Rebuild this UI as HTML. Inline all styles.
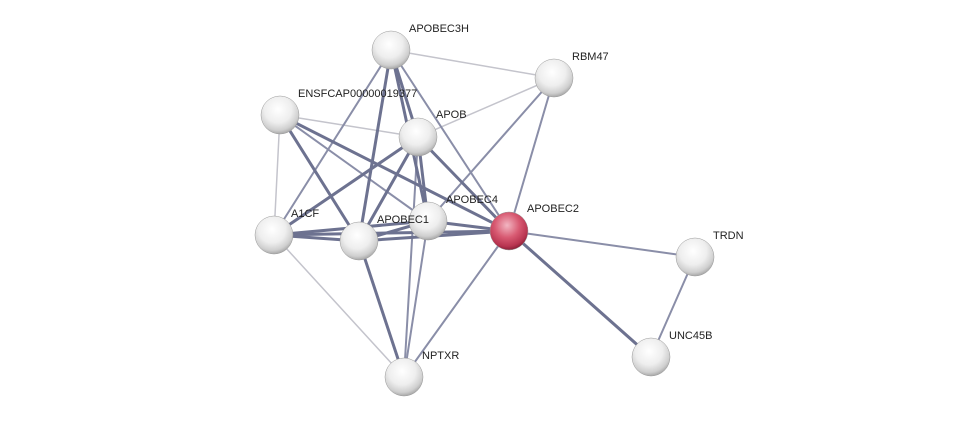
<!DOCTYPE html>
<html><head><meta charset="utf-8"><style>
html,body{margin:0;padding:0;background:#fff;}
svg{display:block;}
text{font-family:"Liberation Sans",sans-serif;font-size:11px;fill:#222;}
</style></head><body>
<svg width="975" height="423" viewBox="0 0 975 423">
<defs>
<radialGradient id="g" cx="45%" cy="35%" r="65%">
<stop offset="0" stop-color="#ffffff"/><stop offset="0.55" stop-color="#eeeeee"/><stop offset="0.85" stop-color="#cfcfcf"/><stop offset="1" stop-color="#a8a8a8"/>
</radialGradient>
<radialGradient id="r" cx="45%" cy="35%" r="65%">
<stop offset="0" stop-color="#f2b6c2"/><stop offset="0.5" stop-color="#d85a72"/><stop offset="0.85" stop-color="#b83450"/><stop offset="1" stop-color="#8a2038"/>
</radialGradient>
</defs>
<g stroke-linecap="round">
<g stroke="#c4c4cc" stroke-width="1.5">
<line x1="391" y1="50" x2="554" y2="78"/>
<line x1="280" y1="115" x2="418" y2="137"/>
<line x1="554" y1="78" x2="418" y2="137"/>
<line x1="280" y1="115" x2="274" y2="235"/>
<line x1="274" y1="235" x2="404" y2="377"/>
</g>
<g stroke="#8a8ea8" stroke-width="2">
<line x1="391" y1="50" x2="274" y2="235"/>
<line x1="391" y1="50" x2="509" y2="231"/>
<line x1="554" y1="78" x2="428" y2="221"/>
<line x1="554" y1="78" x2="509" y2="231"/>
<line x1="280" y1="115" x2="428" y2="221"/>
<line x1="418" y1="137" x2="404" y2="377"/>
<line x1="428" y1="221" x2="404" y2="377"/>
<line x1="509" y1="231" x2="404" y2="377"/>
<line x1="509" y1="231" x2="695" y2="257"/>
<line x1="695" y1="257" x2="651" y2="357"/>
</g>
<g stroke="#6d7290" stroke-width="3">
<line x1="391" y1="50" x2="418" y2="137"/>
<line x1="391" y1="50" x2="428" y2="221"/>
<line x1="391" y1="50" x2="359" y2="241"/>
<line x1="280" y1="115" x2="509" y2="231"/>
<line x1="280" y1="115" x2="359" y2="241"/>
<line x1="418" y1="137" x2="274" y2="235"/>
<line x1="418" y1="137" x2="359" y2="241"/>
<line x1="418" y1="137" x2="428" y2="221"/>
<line x1="418" y1="137" x2="509" y2="231"/>
<line x1="274" y1="235" x2="359" y2="241"/>
<line x1="274" y1="235" x2="428" y2="221"/>
<line x1="274" y1="235" x2="509" y2="231"/>
<line x1="359" y1="241" x2="428" y2="221"/>
<line x1="359" y1="241" x2="509" y2="231"/>
<line x1="359" y1="241" x2="404" y2="377"/>
<line x1="428" y1="221" x2="509" y2="231"/>
<line x1="509" y1="231" x2="651" y2="357"/>
</g>
</g>
<g stroke="#999" stroke-width="0.5">
<circle cx="391" cy="50" r="19" fill="url(#g)"/>
<circle cx="554" cy="78" r="19" fill="url(#g)"/>
<circle cx="280" cy="115" r="19" fill="url(#g)"/>
<circle cx="418" cy="137" r="19" fill="url(#g)"/>
<circle cx="428" cy="221" r="19" fill="url(#g)"/>
<circle cx="274" cy="235" r="19" fill="url(#g)"/>
<circle cx="359" cy="241" r="19" fill="url(#g)"/>
<circle cx="695" cy="257" r="19" fill="url(#g)"/>
<circle cx="651" cy="357" r="19" fill="url(#g)"/>
<circle cx="404" cy="377" r="19" fill="url(#g)"/>
<circle cx="509" cy="231" r="19" fill="url(#r)"/>
</g>
<text x="409" y="32">APOBEC3H</text>
<text x="572" y="60">RBM47</text>
<text x="298" y="97">ENSFCAP00000019377</text>
<text x="436" y="118">APOB</text>
<text x="446" y="203">APOBEC4</text>
<text x="527" y="212">APOBEC2</text>
<text x="291" y="217">A1CF</text>
<text x="377" y="223">APOBEC1</text>
<text x="713" y="239">TRDN</text>
<text x="669" y="339">UNC45B</text>
<text x="422" y="359">NPTXR</text>
</svg>
</body></html>
